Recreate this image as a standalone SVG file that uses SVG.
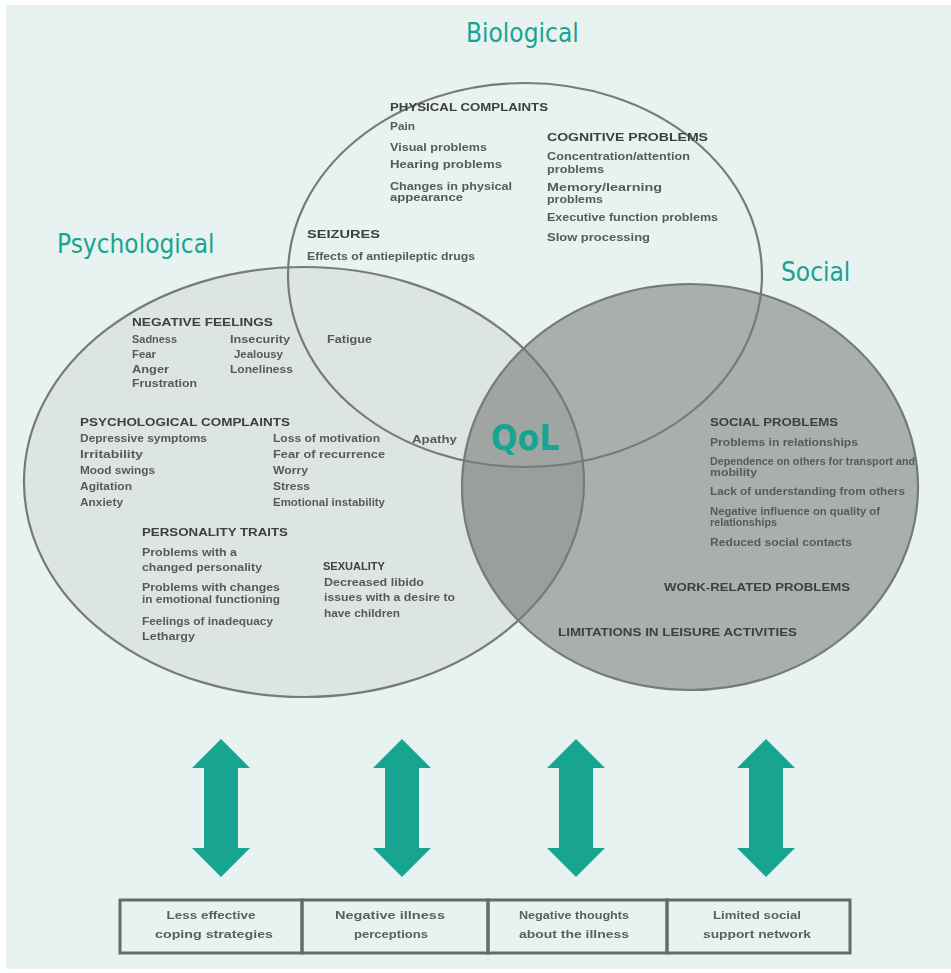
<svg xmlns="http://www.w3.org/2000/svg" width="951" height="973" viewBox="0 0 951 973">
  <style>
    .title { font-family: "DejaVu Sans Condensed", "DejaVu Sans", sans-serif; font-stretch: condensed; font-size: 26px; fill: #17a591; }
    .qol { font-family: "DejaVu Sans Condensed", "DejaVu Sans", sans-serif; font-stretch: condensed; font-size: 35px; font-weight: bold; fill: #17a591; }
    .h { font-family: "Liberation Sans", Arial, sans-serif; font-size: 10.5px; font-weight: bold; fill: #3c3f3f; }
    .t { font-family: "Liberation Sans", Arial, sans-serif; font-size: 10px; font-weight: bold; fill: #565a5a; }
    .bx { font-family: "Liberation Sans", Arial, sans-serif; font-size: 10.5px; font-weight: bold; fill: #5a5e5e; text-anchor: middle; }
    .ring { fill: none; stroke: #767a7a; stroke-width: 2.2; }
    .cell { fill: none; stroke: #666a6a; stroke-width: 3; }
    .arrow { fill: #17a591; }
  </style>
  <defs>
    <filter id="soft" x="-5%" y="-20%" width="110%" height="140%">
      <feGaussianBlur stdDeviation="0.6"/>
    </filter>
    <clipPath id="clipSocial">
      <ellipse cx="690" cy="487" rx="228" ry="203"/>
    </clipPath>
    <clipPath id="clipBio">
      <ellipse cx="525" cy="275" rx="237" ry="192"/>
    </clipPath>
    <!-- double-headed block arrow, centred on x = 0 -->
    <polygon id="dbl" points="0,739 29,768 17,768 17,848 29,848 0,877 -29,848 -17,848 -17,768 -29,768"/>
  </defs>

  <!-- panel -->
  <rect x="0" y="0" width="951" height="973" fill="#ffffff"/>
  <rect x="6" y="5" width="945" height="964" fill="#e8f2f0"/>

  <!-- region fills -->
  <ellipse cx="304" cy="482" rx="280" ry="215" fill="#dde5e4"/>
  <ellipse cx="690" cy="487" rx="228" ry="203" fill="#a8afae"/>
  <g clip-path="url(#clipSocial)">
    <ellipse cx="304" cy="482" rx="280" ry="215" fill="#989f9e"/>
    <g clip-path="url(#clipBio)">
      <ellipse cx="304" cy="482" rx="280" ry="215" fill="#a0a5a4"/>
    </g>
  </g>

  <!-- Biological -->
  <g id="node-biological">
    <ellipse class="ring" cx="525" cy="275" rx="237" ry="192"/>
    <text class="title" x="466" y="42">Biological</text>
    <g filter="url(#soft)">
      <text class="h" x="390" y="111" textLength="158" lengthAdjust="spacingAndGlyphs">PHYSICAL COMPLAINTS</text>
      <text class="t" x="390" y="130" textLength="25" lengthAdjust="spacingAndGlyphs">Pain</text>
      <text class="t" x="390" y="151" textLength="97" lengthAdjust="spacingAndGlyphs">Visual problems</text>
      <text class="t" x="390" y="168" textLength="112" lengthAdjust="spacingAndGlyphs">Hearing problems</text>
      <text class="t" x="390" y="190" textLength="122" lengthAdjust="spacingAndGlyphs">Changes in physical</text>
      <text class="t" x="390" y="201" textLength="73" lengthAdjust="spacingAndGlyphs">appearance</text>
      <text class="h" x="547" y="141" textLength="161" lengthAdjust="spacingAndGlyphs">COGNITIVE PROBLEMS</text>
      <text class="t" x="547" y="160" textLength="143" lengthAdjust="spacingAndGlyphs">Concentration/attention</text>
      <text class="t" x="547" y="173" textLength="57" lengthAdjust="spacingAndGlyphs">problems</text>
      <text class="t" x="547" y="191" textLength="115" lengthAdjust="spacingAndGlyphs">Memory/learning</text>
      <text class="t" x="547" y="203" textLength="56" lengthAdjust="spacingAndGlyphs">problems</text>
      <text class="t" x="547" y="221" textLength="171" lengthAdjust="spacingAndGlyphs">Executive function problems</text>
      <text class="t" x="547" y="241" textLength="103" lengthAdjust="spacingAndGlyphs">Slow processing</text>
      <text class="h" x="307" y="238" textLength="73" lengthAdjust="spacingAndGlyphs">SEIZURES</text>
      <text class="t" x="307" y="260" textLength="168" lengthAdjust="spacingAndGlyphs">Effects of antiepileptic drugs</text>
      <text class="t" x="327" y="343" textLength="45" lengthAdjust="spacingAndGlyphs">Fatigue</text>
      <text class="t" x="412" y="443" textLength="45" lengthAdjust="spacingAndGlyphs">Apathy</text>
    </g>
  </g>

  <!-- Psychological -->
  <g id="node-psychological">
    <ellipse class="ring" cx="304" cy="482" rx="280" ry="215"/>
    <text class="title" x="57" y="253">Psychological</text>
    <g filter="url(#soft)">
      <text class="h" x="132" y="326" textLength="141" lengthAdjust="spacingAndGlyphs">NEGATIVE FEELINGS</text>
      <text class="t" x="132" y="343" textLength="45" lengthAdjust="spacingAndGlyphs">Sadness</text>
      <text class="t" x="132" y="358" textLength="24" lengthAdjust="spacingAndGlyphs">Fear</text>
      <text class="t" x="132" y="373" textLength="37" lengthAdjust="spacingAndGlyphs">Anger</text>
      <text class="t" x="132" y="387" textLength="65" lengthAdjust="spacingAndGlyphs">Frustration</text>
      <text class="t" x="230" y="343" textLength="60" lengthAdjust="spacingAndGlyphs">Insecurity</text>
      <text class="t" x="234" y="358" textLength="49" lengthAdjust="spacingAndGlyphs">Jealousy</text>
      <text class="t" x="230" y="373" textLength="63" lengthAdjust="spacingAndGlyphs">Loneliness</text>
      <text class="h" x="80" y="426" textLength="210" lengthAdjust="spacingAndGlyphs">PSYCHOLOGICAL COMPLAINTS</text>
      <text class="t" x="80" y="442" textLength="127" lengthAdjust="spacingAndGlyphs">Depressive symptoms</text>
      <text class="t" x="80" y="458" textLength="63" lengthAdjust="spacingAndGlyphs">Irritability</text>
      <text class="t" x="80" y="474" textLength="75" lengthAdjust="spacingAndGlyphs">Mood swings</text>
      <text class="t" x="80" y="490" textLength="52" lengthAdjust="spacingAndGlyphs">Agitation</text>
      <text class="t" x="80" y="506" textLength="43" lengthAdjust="spacingAndGlyphs">Anxiety</text>
      <text class="t" x="273" y="442" textLength="107" lengthAdjust="spacingAndGlyphs">Loss of motivation</text>
      <text class="t" x="273" y="458" textLength="112" lengthAdjust="spacingAndGlyphs">Fear of recurrence</text>
      <text class="t" x="273" y="474" textLength="35" lengthAdjust="spacingAndGlyphs">Worry</text>
      <text class="t" x="273" y="490" textLength="37" lengthAdjust="spacingAndGlyphs">Stress</text>
      <text class="t" x="273" y="506" textLength="112" lengthAdjust="spacingAndGlyphs">Emotional instability</text>
      <text class="h" x="142" y="536" textLength="146" lengthAdjust="spacingAndGlyphs">PERSONALITY TRAITS</text>
      <text class="t" x="142" y="556" textLength="95" lengthAdjust="spacingAndGlyphs">Problems with a</text>
      <text class="t" x="142" y="571" textLength="120" lengthAdjust="spacingAndGlyphs">changed personality</text>
      <text class="t" x="142" y="591" textLength="138" lengthAdjust="spacingAndGlyphs">Problems with changes</text>
      <text class="t" x="142" y="603" textLength="138" lengthAdjust="spacingAndGlyphs">in emotional functioning</text>
      <text class="t" x="142" y="625" textLength="131" lengthAdjust="spacingAndGlyphs">Feelings of inadequacy</text>
      <text class="t" x="142" y="640" textLength="53" lengthAdjust="spacingAndGlyphs">Lethargy</text>
      <text class="h" x="323" y="570" textLength="62" lengthAdjust="spacingAndGlyphs">SEXUALITY</text>
      <text class="t" x="324" y="586" textLength="100" lengthAdjust="spacingAndGlyphs">Decreased libido</text>
      <text class="t" x="324" y="601" textLength="131" lengthAdjust="spacingAndGlyphs">issues with a desire to</text>
      <text class="t" x="324" y="617" textLength="76" lengthAdjust="spacingAndGlyphs">have children</text>
    </g>
  </g>

  <!-- Social -->
  <g id="node-social">
    <ellipse class="ring" cx="690" cy="487" rx="228" ry="203" stroke="#6a6e6e" stroke-width="3"/>
    <text class="title" x="781" y="281">Social</text>
    <g filter="url(#soft)">
      <text class="h" x="710" y="426" textLength="128" lengthAdjust="spacingAndGlyphs">SOCIAL PROBLEMS</text>
      <text class="t" x="710" y="446" textLength="148" lengthAdjust="spacingAndGlyphs">Problems in relationships</text>
      <text class="t" x="710" y="465" textLength="205" lengthAdjust="spacingAndGlyphs">Dependence on others for transport and</text>
      <text class="t" x="710" y="476" textLength="47" lengthAdjust="spacingAndGlyphs">mobility</text>
      <text class="t" x="710" y="495" textLength="195" lengthAdjust="spacingAndGlyphs">Lack of understanding from others</text>
      <text class="t" x="710" y="515" textLength="170" lengthAdjust="spacingAndGlyphs">Negative influence on quality of</text>
      <text class="t" x="710" y="526" textLength="67" lengthAdjust="spacingAndGlyphs">relationships</text>
      <text class="t" x="710" y="546" textLength="142" lengthAdjust="spacingAndGlyphs">Reduced social contacts</text>
      <text class="h" x="664" y="591" textLength="186" lengthAdjust="spacingAndGlyphs">WORK-RELATED PROBLEMS</text>
      <text class="h" x="558" y="636" textLength="239" lengthAdjust="spacingAndGlyphs">LIMITATIONS IN LEISURE ACTIVITIES</text>
    </g>
  </g>

  <!-- centre of the three domains -->
  <g id="node-qol">
    <text class="qol" x="525" y="450" text-anchor="middle">QoL</text>
  </g>

  <!-- two-way links between the domains and the factors below -->
  <g id="connectors">
    <use href="#dbl" class="arrow" x="221"/>
    <use href="#dbl" class="arrow" x="402"/>
    <use href="#dbl" class="arrow" x="576"/>
    <use href="#dbl" class="arrow" x="766"/>
  </g>

  <!-- factor boxes -->
  <g id="node-coping">
    <rect class="cell" x="120" y="900" width="182" height="53"/>
    <g filter="url(#soft)">
      <text class="bx" x="211" y="919" textLength="89" lengthAdjust="spacingAndGlyphs">Less effective</text>
      <text class="bx" x="214" y="938" textLength="118" lengthAdjust="spacingAndGlyphs">coping strategies</text>
    </g>
  </g>
  <g id="node-perceptions">
    <rect class="cell" x="302" y="900" width="186" height="53"/>
    <g filter="url(#soft)">
      <text class="bx" x="390" y="919" textLength="110" lengthAdjust="spacingAndGlyphs">Negative illness</text>
      <text class="bx" x="391" y="938" textLength="74" lengthAdjust="spacingAndGlyphs">perceptions</text>
    </g>
  </g>
  <g id="node-thoughts">
    <rect class="cell" x="488" y="900" width="179" height="53"/>
    <g filter="url(#soft)">
      <text class="bx" x="574" y="919" textLength="110" lengthAdjust="spacingAndGlyphs">Negative thoughts</text>
      <text class="bx" x="574" y="938" textLength="110" lengthAdjust="spacingAndGlyphs">about the illness</text>
    </g>
  </g>
  <g id="node-support">
    <rect class="cell" x="667" y="900" width="183" height="53"/>
    <g filter="url(#soft)">
      <text class="bx" x="757" y="919" textLength="88" lengthAdjust="spacingAndGlyphs">Limited social</text>
      <text class="bx" x="757" y="938" textLength="108" lengthAdjust="spacingAndGlyphs">support network</text>
    </g>
  </g>
</svg>
